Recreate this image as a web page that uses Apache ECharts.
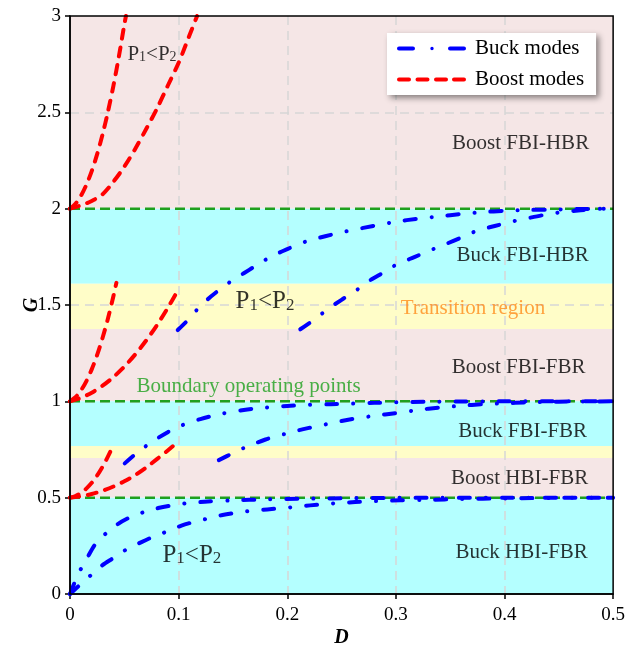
<!DOCTYPE html>
<html><head><meta charset="utf-8">
<script src="https://cdn.jsdelivr.net/npm/echarts@6/dist/echarts.min.js"></script>
<style>html,body{margin:0;padding:0;background:#fff}#c{width:628px;height:654px}</style>
</head><body><div id="c"></div>
<script>
// ---------- data ----------
const xTicks = [0, 0.1, 0.2, 0.3, 0.4, 0.5];
const yTicks = [0, 0.5, 1, 1.5, 2, 2.5, 3];

// background operating regions (G ranges)
const bandLower = [2, 1.61, 1.375, 1, 0.768, 0.706, 0.5, 0];
const bandUpper = [3, 2, 1.61, 1.375, 1, 0.768, 0.706, 0.5];
const bandKind  = ['boost', 'buck', 'transition', 'boost', 'buck', 'transition', 'boost', 'buck'];

// boundary operating points (G levels)
const boundaryLevels = [2, 1, 0.5];

// Boost modes (red dashed)  [D, G]
const boostHigh1 = [[0,2],[0.005,2.025],[0.01,2.066],[0.015,2.123],[0.02,2.195],[0.025,2.283],[0.03,2.386],[0.035,2.505],[0.04,2.639],[0.045,2.79],[0.05,2.955],[0.0515,3.0]];
const boostHigh2 = [[0,2],[0.01,2.017],[0.02,2.04],[0.03,2.075],[0.04,2.14],[0.05,2.218],[0.06,2.31],[0.07,2.412],[0.08,2.519],[0.09,2.638],[0.10,2.757],[0.11,2.90],[0.117,3.0]];
const boostMid1  = [[0,1],[0.005,1.021],[0.01,1.056],[0.015,1.104],[0.02,1.166],[0.025,1.241],[0.03,1.33],[0.035,1.431],[0.04,1.547],[0.0427,1.615]];
const boostMid2  = [[0,1],[0.01,1.018],[0.02,1.045],[0.03,1.081],[0.04,1.126],[0.05,1.18],[0.06,1.243],[0.07,1.315],[0.08,1.395],[0.09,1.485],[0.0998,1.581]];
const boostLow1  = [[0,0.5],[0.005,0.508],[0.01,0.524],[0.015,0.547],[0.02,0.577],[0.025,0.615],[0.03,0.661],[0.035,0.714],[0.0388,0.759]];
const boostLow2  = [[0,0.5],[0.01,0.507],[0.02,0.519],[0.03,0.536],[0.04,0.558],[0.05,0.585],[0.06,0.617],[0.07,0.656],[0.08,0.70],[0.09,0.745],[0.0977,0.782]];

// Buck modes (blue dash-dot)  [D, G]
const buckHigh1 = [[0.0992,1.37],[0.11,1.43],[0.12,1.495],[0.13,1.545],[0.14,1.59],[0.15,1.63],[0.16,1.665],[0.17,1.70],[0.18,1.735],[0.19,1.765],[0.20,1.79],[0.21,1.815],[0.22,1.835],[0.23,1.85],[0.24,1.864],[0.25,1.877],[0.26,1.889],[0.28,1.911],[0.30,1.932],[0.32,1.948],[0.34,1.96],[0.36,1.972],[0.38,1.982],[0.40,1.989],[0.42,1.993],[0.44,1.995],[0.46,1.997],[0.48,1.999],[0.5,2.0]];
const buckHigh2 = [[0.212,1.374],[0.225,1.425],[0.237,1.477],[0.25,1.527],[0.262,1.57],[0.275,1.624],[0.29,1.673],[0.30,1.708],[0.3175,1.75],[0.333,1.787],[0.345,1.814],[0.361,1.852],[0.375,1.886],[0.391,1.91],[0.406,1.932],[0.421,1.95],[0.436,1.967],[0.452,1.981],[0.47,1.992],[0.487,1.999],[0.5,2.0]];
const buckMid1  = [[0.0504,0.678],[0.06,0.725],[0.07,0.768],[0.08,0.806],[0.09,0.84],[0.10,0.868],[0.11,0.89],[0.12,0.908],[0.13,0.923],[0.14,0.936],[0.15,0.946],[0.16,0.955],[0.17,0.962],[0.18,0.967],[0.19,0.972],[0.20,0.976],[0.22,0.982],[0.24,0.985],[0.26,0.988],[0.28,0.992],[0.30,0.995],[0.33,0.998],[0.36,0.999],[0.40,1.0],[0.5,1.0]];
const buckMid2  = [[0.137,0.695],[0.15,0.731],[0.16,0.758],[0.17,0.781],[0.18,0.802],[0.19,0.819],[0.20,0.834],[0.21,0.849],[0.22,0.862],[0.23,0.874],[0.24,0.886],[0.25,0.898],[0.26,0.908],[0.28,0.925],[0.30,0.939],[0.32,0.955],[0.34,0.968],[0.36,0.977],[0.38,0.985],[0.40,0.99],[0.42,0.994],[0.44,0.997],[0.46,0.999],[0.5,1.0]];
const buckLow1  = [[0,0],[0.005,0.07],[0.0103,0.133],[0.0156,0.185],[0.0232,0.258],[0.0332,0.315],[0.044,0.363],[0.0552,0.398],[0.069,0.427],[0.0812,0.446],[0.0964,0.463],[0.108,0.471],[0.124,0.479],[0.15,0.486],[0.18,0.491],[0.21,0.494],[0.25,0.497],[0.30,0.499],[0.40,0.5],[0.5,0.5]];
const buckLow2  = [[0,0],[0.01,0.052],[0.0195,0.099],[0.0299,0.15],[0.04,0.187],[0.0522,0.232],[0.0653,0.268],[0.0766,0.297],[0.0894,0.325],[0.1026,0.355],[0.1147,0.375],[0.127,0.392],[0.1404,0.41],[0.157,0.425],[0.168,0.432],[0.1816,0.439],[0.194,0.445],[0.2076,0.452],[0.221,0.46],[0.2335,0.466],[0.247,0.472],[0.2625,0.477],[0.2747,0.481],[0.288,0.483],[0.304,0.486],[0.33,0.489],[0.36,0.493],[0.40,0.496],[0.45,0.499],[0.5,0.5]];

// region annotations
const regionLabels = ['Boost FBI-HBR', 'Buck FBI-HBR', 'Transition region', 'Boost FBI-FBR', 'Boundary operating points', 'Buck FBI-FBR', 'Boost HBI-FBR', 'Buck HBI-FBR'];
const regionLabelD = [0.4148, 0.4167, 0.3709, 0.413, 0.1644, 0.4167, 0.4139, 0.4158];
const regionLabelG = [2.34, 1.759, 1.484, 1.178, 1.079, 0.843, 0.602, 0.213];
const regionLabelKind = ['text', 'text', 'transition', 'text', 'boundary', 'text', 'text', 'text'];

// "P1<P2" annotations
const pLabelD = [0.0755, 0.1795, 0.1122];
const pLabelG = [2.802, 1.517, 0.2024];
const pLabelSize = ['small', 'large', 'large'];

// ---------- styles ----------
const SERIF = 'Liberation Serif';
const bandColors = { boost: '#f5e6e6', buck: '#b4ffff', transition: '#fffdc8' };
const labelColors = { text: '#000', transition: '#ff8c1a', boundary: '#1ea01e' };
const BLUE = '#0000ff', RED = '#ff0000', GREEN = '#1ea01e';

const buckStyle = { color: BLUE, width: 4, type: [11, 16, 0.1, 16], cap: 'round', join: 'round' };
const boostStyle = { color: RED, width: 4, type: [9, 9], cap: 'round', join: 'round' };

// legend sample icons (dash-dot and dashed strokes)
const buckIcon = 'path://M2,0.5H16A2,2 0 0 1 16,4.5H2A2,2 0 0 1 2,0.5Z M35,0.8A1.7,1.7 0 1 1 34.99,0.8Z M53,0.5H67A2,2 0 0 1 67,4.5H53A2,2 0 0 1 53,0.5Z';
const boostIcon = 'path://M2,0.5H12A2,2 0 0 1 12,4.5H2A2,2 0 0 1 2,0.5Z M20.5,0.5H30.5A2,2 0 0 1 30.5,4.5H20.5A2,2 0 0 1 20.5,0.5Z M39,0.5H49A2,2 0 0 1 49,4.5H39A2,2 0 0 1 39,0.5Z M57,0.5H67A2,2 0 0 1 67,4.5H57A2,2 0 0 1 57,0.5Z';

function curve(name, data, style, z) {
  return { name, type: 'line', data, showSymbol: false, symbol: 'none', smooth: 0.3,
    lineStyle: style, itemStyle: { color: style.color }, z, silent: true };
}

const series = [];
// background bands
series.push({
  name: 'bands', type: 'line', data: [], silent: true,
  markArea: {
    silent: true, z: -5,
    data: bandLower.map((lo, i) => [
      { xAxis: 0, yAxis: bandUpper[i], itemStyle: { color: bandColors[bandKind[i]] } },
      { xAxis: 0.5, yAxis: lo }
    ])
  }
});
// boundary lines
boundaryLevels.forEach(g => {
  series.push({ name: 'boundary', type: 'line', data: [[0, g], [0.5, g]], symbol: 'none', silent: true,
    lineStyle: { color: GREEN, width: 2.5, type: [10, 5] }, z: 3 });
});
[boostHigh1, boostHigh2, boostMid1, boostMid2, boostLow1, boostLow2].forEach(d => series.push(curve('Boost modes', d, boostStyle, 4)));
[buckHigh1, buckHigh2, buckMid1, buckMid2, buckLow1, buckLow2].forEach(d => series.push(curve('Buck modes', d, buckStyle, 5)));

// annotations
series.push({
  name: 'regions', type: 'scatter', symbolSize: 1, silent: true, z: 6,
  itemStyle: { color: 'rgba(0,0,0,0)' },
  data: regionLabels.map((t, i) => ({
    value: [regionLabelD[i], regionLabelG[i]],
    label: { show: true, position: 'inside', formatter: t, fontFamily: SERIF, fontSize: 21,
      color: labelColors[regionLabelKind[i]] }
  }))
});
series.push({
  name: 'pLabels', type: 'scatter', symbolSize: 1, silent: true, z: 6,
  itemStyle: { color: 'rgba(0,0,0,0)' },
  data: pLabelD.map((d, i) => {
    const big = pLabelSize[i] === 'large';
    return {
      value: [d, pLabelG[i]],
      label: { show: true, position: 'inside',
        formatter: '{m|P}{s|1}{m|<P}{s|2}',
        rich: {
          m: { fontFamily: SERIF, fontSize: big ? 25 : 21, lineHeight: big ? 25 : 21, color: '#000' },
          s: { fontFamily: SERIF, fontSize: big ? 17 : 14, lineHeight: big ? 2 : 4, verticalAlign: 'bottom', color: '#000' }
        }
      }
    };
  })
});

const chart = echarts.init(document.getElementById('c'), null, { renderer: 'canvas' });
chart.setOption({
  animation: false,
  backgroundColor: '#fff',
  grid: { left: 70, right: 12, top: 16, bottom: 60, show: true, borderColor: '#000', borderWidth: 1.5, backgroundColor: 'transparent', z: 10 },
  legend: {
    data: [{ name: 'Buck modes', icon: buckIcon }, { name: 'Boost modes', icon: boostIcon }],
    orient: 'vertical', left: 387, top: 33, itemWidth: 69, itemHeight: 5, itemGap: 10,
    padding: [5, 12, 5, 10], backgroundColor: '#fff',
    shadowBlur: 6, shadowColor: 'rgba(0,0,0,0.45)', shadowOffsetX: 3, shadowOffsetY: 3,
    textStyle: { fontFamily: SERIF, fontSize: 21, color: '#000', padding: [0, 0, 0, 4] },
    selectedMode: false
  },
  xAxis: {
    type: 'value', min: xTicks[0], max: xTicks[xTicks.length - 1], interval: 0.1,
    name: 'D', nameLocation: 'middle', nameGap: 34, nameMoveOverlap: false,
    nameTextStyle: { fontFamily: SERIF, fontSize: 20, fontWeight: 'bold', fontStyle: 'italic', color: '#000' },
    axisLine: { show: true, lineStyle: { color: '#000', width: 1.5 } },
    axisTick: { show: true, length: 5, lineStyle: { color: '#000', width: 1.5 } },
    axisLabel: { fontFamily: SERIF, fontSize: 19, color: '#000', margin: 12 },
    splitLine: { show: true, showMinLine: false, showMaxLine: false, lineStyle: { color: '#d6d6d6', width: 1.5, type: [9, 6] } }
  },
  yAxis: {
    type: 'value', min: yTicks[0], max: yTicks[yTicks.length - 1], interval: 0.5,
    name: 'G', nameLocation: 'middle', nameGap: 28, nameMoveOverlap: false,
    nameTextStyle: { fontFamily: SERIF, fontSize: 20, fontWeight: 'bold', fontStyle: 'italic', color: '#000' },
    axisLine: { show: true, lineStyle: { color: '#000', width: 1.5 } },
    axisTick: { show: true, length: 5, lineStyle: { color: '#000', width: 1.5 } },
    axisLabel: { fontFamily: SERIF, fontSize: 19, color: '#000', margin: 9 },
    splitLine: { show: true, showMinLine: false, showMaxLine: false, lineStyle: { color: '#d6d6d6', width: 1.5, type: [9, 6] } }
  },
  series
});
</script></body></html>
